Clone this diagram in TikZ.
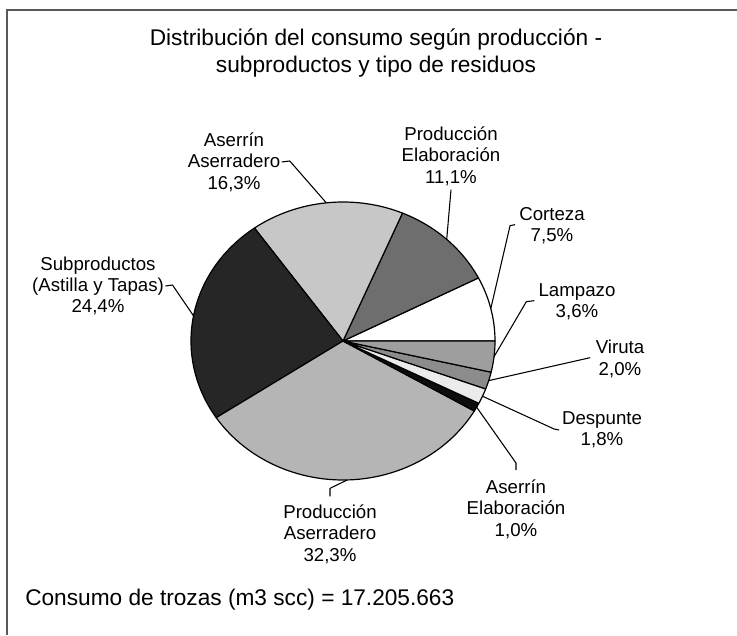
\documentclass[tikz,border=0pt]{standalone}
\usepackage{fontspec}
\setmainfont{Liberation Sans}
\definecolor{cCor}{gray}{1.0}
\definecolor{cPE}{gray}{0.43}
\definecolor{cAsAs}{gray}{0.78}
\definecolor{cSub}{gray}{0.15}
\definecolor{cPA}{gray}{0.71}
\definecolor{cAE}{gray}{0.05}
\definecolor{cDesp}{gray}{0.92}
\definecolor{cVir}{gray}{0.55}
\definecolor{cLamp}{gray}{0.62}
\definecolor{frame}{gray}{0.35}
\begin{document}
\begin{tikzpicture}[x=0.75pt,y=-0.75pt,
  lbl/.style={align=center, font=\fontsize{14}{16}\selectfont, inner sep=0pt},
  lead/.style={draw=black, line width=0.8pt, line join=round},
  wedge/.style={draw=black, line width=0.9pt, line join=round}]
\useasboundingbox (0,0) rectangle (737,635);
\fill[white] (0,0) rectangle (737,635);
\draw[line width=1.4pt, frame] (7,635) -- (7,10) -- (737,10);

% title
\node[align=center, font=\fontsize{17}{20}\selectfont, inner sep=0pt] (title) at (376,53)
  {Distribución del consumo según producción -\\subproductos y tipo de residuos};

% pie slices
\foreach \a/\b/\c in {0/27/cCor, 27/66.96/cPE, 66.96/125.64/cAsAs, 125.64/213.48/cSub,
  213.48/329.76/cPA, 329.76/333.36/cAE, 333.36/339.84/cDesp, 339.84/347.04/cVir, 347.04/360/cLamp}
  \filldraw[wedge, fill=\c] (343,341) -- plot[domain=\a:\b, samples=60]
    ({343+152*cos(\x)},{341-139*sin(\x)}) -- cycle;

% points on the pie
\coordinate (pCor)  at ({343+152*cos(13.5)},{341-139*sin(13.5)});
\coordinate (pPE)   at ({343+152*cos(46.98)},{341-139*sin(46.98)});
\coordinate (pAsAs) at ({343+152*cos(96.3)},{341-139*sin(96.3)});
\coordinate (pSub)  at ({343+152*cos(169.56)},{341-139*sin(169.56)});
\coordinate (pPA)   at ({343+152*cos(271.62)},{341-139*sin(271.62)});
\coordinate (pAE)   at ({343+152*cos(331.56)},{341-139*sin(331.56)});
\coordinate (pDesp) at ({343+152*cos(336.6)},{341-139*sin(336.6)});
\coordinate (pVir)  at ({343+152*cos(343.44)},{341-139*sin(343.44)});
\coordinate (pLamp) at ({343+152*cos(353.52)},{341-139*sin(353.52)});

% labels
\node[lbl] (AsAs) at (234,162) {Aserrín\\Aserradero\\16,3\%};
\node[lbl] (PE) at (451,156) {Producción\\Elaboración\\11,1\%};
\node[lbl] (Cor) at (552,226) {Corteza\\7,5\%};
\node[lbl] (Lamp) at (577,302) {Lampazo\\3,6\%};
\node[lbl] (Vir) at (620,359) {Viruta\\2,0\%};
\node[lbl] (Desp) at (602,430) {Despunte\\1,8\%};
\node[lbl] (AE) at (516,509) {Aserrín\\Elaboración\\1,0\%};
\node[lbl] (PA) at (330,534) {Producción\\Aserradero\\32,3\%};
\node[lbl] (Sub) at (98,286) {Subproductos\\(Astilla y Tapas)\\24,4\%};

% leaders
\draw[lead] ([xshift=1pt]AsAs.east) -- ++(8,-1) -- (pAsAs);
\draw[lead] ([xshift=1pt]Sub.east) -- ++(7,-1) -- (pSub);
\draw[lead] ([yshift=-3pt]PE.south) -- (pPE);
\draw[lead] ([xshift=-3pt,yshift=1pt]Cor.west) -- ++(-5,1) -- (pCor);
\draw[lead] ([xshift=-3pt,yshift=1pt]Lamp.west) -- ++(-8,1) -- (pLamp);
\draw[lead] ([xshift=-4pt,yshift=1pt]Vir.west) -- (pVir);
\draw[lead] ([xshift=-2pt]Desp.west) -- ++(-5,-1) -- (pDesp);
\draw[lead] ([yshift=7pt]AE.north) -- ++(0,-7) -- (pAE);
\draw[lead] ([yshift=6pt]PA.north) -- ++(0,-8) -- (pPA);

% footer
\node[anchor=base west, font=\fontsize{17}{20}\selectfont, inner sep=0pt] (cons) at (25,605)
  {Consumo de trozas (m3 scc) = 17.205.663};
\end{tikzpicture}
\end{document}
